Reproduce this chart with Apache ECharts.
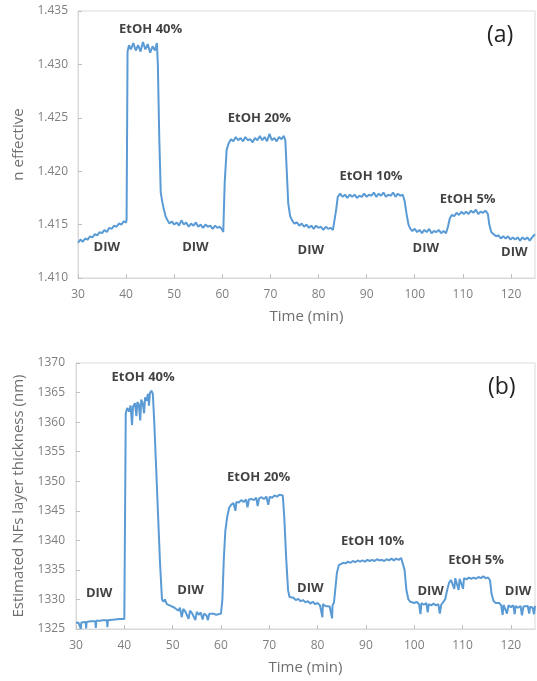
<!DOCTYPE html>
<html>
<head>
<meta charset="utf-8">
<script src="https://cdn.jsdelivr.net/npm/echarts@6/dist/echarts.min.js"></script>
<style>
  html, body { margin: 0; padding: 0; background: #fff; }
  #main { width: 537px; height: 681px; }
</style>
</head>
<body>
<div id="main"></div>
<script>
// (a) n effective vs time
var timeA = [30,30.5,31,31.5,32,32.5,33,33.5,34,34.5,35,35.5,36,36.5,37,37.5,38,38.5,39,39.5,40,40.1,
  40.3,40.6,41,41.5,42,42.5,43,43.5,44,44.5,45,45.5,46,46.4,46.6,46.9,47.2,47.5,47.8,48.2,48.6,49,49.5,
  50,50.5,51,51.5,52,52.5,53,53.5,54,54.5,55,55.5,56,56.5,57,57.5,58,58.5,59,59.5,60,60.2,60.5,60.9,61.3,
  61.8,62.3,62.8,63.3,63.8,64.3,64.8,65.3,65.8,66.3,66.8,67.3,67.8,68.3,68.8,69.3,69.8,70.3,70.8,71.3,71.8,
  72.3,72.8,73.1,73.4,73.7,74.1,74.5,75,75.5,76,76.5,77,77.5,78,78.5,79,79.5,80,80.5,81,81.5,82,82.5,83,
  83.4,83.7,84,84.5,85,85.5,86,86.5,87,87.5,88,88.5,89,89.5,90,90.5,91,91.5,92,92.5,93,93.5,94,94.5,95,
  95.5,96,96.5,97,97.5,97.9,98.3,98.7,99.1,99.5,100,100.5,101,101.5,102,102.5,103,103.5,104,104.5,105,
  105.5,106,106.5,106.9,107.3,107.7,108.2,108.7,109.2,109.7,110.2,110.7,111.2,111.7,112.2,112.7,113.2,
  113.7,114.2,114.7,115.2,115.5,115.9,116.4,116.9,117.4,117.9,118.4,118.9,119.4,119.9,120.4,120.9,121.4,
  121.9,122.4,122.9,123.4,123.9,124.4,124.8,125];
var nEffective = [1.4133,1.4136,1.4134,1.4137,1.4136,1.4139,1.4138,1.4141,1.4140,1.4143,1.4142,1.4145,1.4143,
  1.4147,1.4146,1.4149,1.4148,1.4151,1.4150,1.4153,1.4152,1.4155,
  1.4312,1.4318,1.4314,1.4320,1.4313,1.4318,1.4312,1.4321,1.4314,1.4319,1.4311,1.4317,1.4313,1.4320,
  1.4300,1.4230,1.4180,1.4172,1.4165,1.4158,1.4154,1.4151,1.4153,
  1.4150,1.4152,1.4149,1.4154,1.4150,1.4152,1.4148,1.4151,1.4149,1.4152,1.4148,1.4150,1.4147,1.4150,
  1.4148,1.4149,1.4146,1.4149,1.4147,1.4148,1.4145,1.4143,1.4190,1.4220,1.4226,
  1.4230,1.4228,1.4232,1.4229,1.4231,1.4228,1.4232,1.4229,1.4230,1.4227,1.4231,1.4229,1.4233,1.4229,
  1.4232,1.4228,1.4235,1.4229,1.4231,1.4228,1.4232,1.4230,1.4233,1.4229,1.4200,1.4170,1.4158,1.4154,
  1.4151,1.4152,1.4149,1.4151,1.4148,1.4150,1.4147,1.4149,1.4146,1.4149,1.4147,1.4148,1.4145,1.4148,
  1.4146,1.4147,1.4145,1.4146,1.4165,1.4176,1.4179,1.4176,1.4178,1.4175,1.4178,1.4176,1.4178,1.4175,
  1.4177,1.4176,1.4179,1.4176,1.4178,1.4177,1.4180,1.4176,1.4179,1.4177,1.4180,1.4176,1.4178,1.4177,
  1.4180,1.4176,1.4179,1.4177,1.4178,1.4172,1.4160,1.4150,1.4146,1.4144,1.4146,1.4143,1.4145,1.4142,
  1.4145,1.4143,1.4146,1.4142,1.4144,1.4143,1.4145,1.4142,1.4144,1.4142,1.4148,1.4156,1.4159,1.4158,
  1.4161,1.4159,1.4162,1.4160,1.4162,1.4160,1.4163,1.4161,1.4164,1.4160,1.4162,1.4161,1.4163,1.4160,
  1.4150,1.4143,1.4141,1.4139,1.4140,1.4137,1.4139,1.4137,1.4139,1.4136,1.4138,1.4136,1.4138,1.4135,
  1.4138,1.4136,1.4138,1.4135,1.4138,1.4137,1.4141];

// (b) estimated layer thickness vs time
var timeB = [30,30.5,30.9,31,31.1,31.5,32,32.1,32.2,33,33.5,34,34.1,34.2,35,35.5,36.4,36.5,36.6,37,38,39,40,40.1,
  40.3,40.6,41,41.3,41.6,41.8,42.2,42.5,42.7,43,43.3,43.5,43.8,44.1,44.3,44.6,44.9,45.1,45.3,45.6,45.9,
  46.2,46.6,47,47.4,47.8,48.1,48.4,48.8,49.2,49.6,50,50.4,50.8,51.2,51.5,51.9,52.2,52.6,53,53.3,53.6,54,
  54.3,54.7,55,55.4,55.8,56.2,56.5,57,57.3,57.6,58,58.5,59,59.5,60,60.3,60.6,60.9,61.3,61.7,62.1,62.6,63,
  63.2,63.7,64.2,64.7,65.2,65.5,65.8,66.3,66.8,67.3,67.6,67.9,68.4,68.9,69.4,69.8,70.1,70.6,71.1,71.6,
  72.1,72.5,72.8,73.1,73.5,73.9,74.2,74.6,75,75.5,76,76.5,77,77.5,78,78.5,79,79.5,80,80.5,80.9,81,81.1,
  81.6,82,82.5,82.9,83,83.1,83.4,83.7,84,84.4,84.8,85.3,85.8,86.3,86.8,87.3,87.8,88.3,88.8,89.3,89.8,
  90.3,90.8,91.3,91.8,92.3,92.8,93.3,93.8,94.3,94.8,95.3,95.8,96.3,96.8,97.3,97.7,98,98.4,98.8,99.2,99.6,
  100,100.5,101,101.3,101.5,102,102.5,102.8,103,103.5,104,104.5,105,105.3,105.6,106,106.4,106.8,107.2,
  107.6,108,108.3,108.5,108.9,109.2,109.4,109.8,110.1,110.3,110.8,111.3,111.8,112.3,112.8,113.3,113.8,
  114.3,114.8,115.3,115.7,116,116.4,116.8,117.2,117.6,118,118.3,118.5,118.9,119.2,119.5,120,120.5,120.8,
  121,121.5,122,122.3,122.6,123,123.5,123.8,124,124.5,124.8,125];
var thickness = [1326.0,1326.1,1326.1,1325.0,1326.1,1326.2,1326.2,1325.1,1326.2,1326.3,1326.3,1326.3,1325.2,
  1326.4,1326.4,1326.5,1326.5,1325.3,1326.5,1326.6,1326.6,1326.7,1326.7,1326.8,
  1361.5,1362.4,1361.8,1362.8,1359.5,1362.6,1363.2,1361.0,1363.4,1363.0,1360.3,1363.8,1363.2,1361.5,
  1364.2,1363.6,1364.8,1362.8,1364.9,1365.3,1364.8,
  1360.0,1352.0,1344.0,1336.0,1330.0,1329.6,1330.0,1329.2,1329.5,1328.9,1329.2,1328.6,1328.9,1328.1,
  1328.6,1327.0,1328.4,1328.0,1328.3,1326.7,1328.1,1327.7,1328.0,1326.5,1327.9,1327.4,1327.8,1326.6,
  1327.6,1327.3,1326.5,1327.6,1327.4,1327.6,1327.4,1327.5,1327.6,1330.0,1337.0,1341.5,1344.0,1345.5,
  1346.0,1346.3,1345.0,1346.5,1346.4,1346.8,1346.5,1346.9,1345.6,1346.9,1347.0,1346.8,1347.2,1345.8,
  1347.1,1347.3,1347.0,1347.4,1346.0,1347.4,1347.2,1347.6,1347.4,1347.7,1347.5,1347.6,1344.0,1337.0,
  1331.5,1330.4,1330.2,1330.3,1329.9,1330.1,1329.7,1329.9,1329.5,1329.7,1329.3,1329.6,1329.2,1329.4,
  1329.0,1329.3,1327.0,1329.2,1328.9,1329.2,1328.8,1329.0,1326.8,1329.0,1329.5,1332.0,1334.5,1335.8,
  1336.0,1336.2,1336.1,1336.4,1336.2,1336.5,1336.3,1336.6,1336.4,1336.6,1336.4,1336.7,1336.5,1336.7,
  1336.5,1336.8,1336.6,1336.7,1336.5,1336.8,1336.6,1336.9,1336.6,1336.9,1336.7,1337.0,1336.8,1335.0,
  1331.5,1330.0,1329.6,1329.8,1329.4,1329.6,1329.2,1327.5,1329.4,1329.1,1329.4,1327.8,1329.2,1329.0,
  1329.3,1329.0,1329.2,1327.6,1329.1,1329.3,1330.0,1331.5,1332.8,1333.3,1333.5,1331.8,1333.6,1333.4,
  1331.6,1333.5,1333.3,1331.8,1333.6,1333.4,1333.7,1333.5,1333.7,1333.5,1333.8,1333.6,1333.9,1333.6,
  1333.7,1333.2,1331.0,1329.8,1329.4,1329.2,1329.4,1329.0,1327.4,1329.1,1328.8,1327.6,1329.0,1328.7,
  1329.0,1327.5,1328.9,1328.6,1328.9,1327.3,1328.8,1328.6,1328.9,1327.6,1328.8,1328.6,1327.5,1328.9];

// annotations (text, time, value)
var notesA = ['EtOH 40%', 'DIW', 'DIW', 'EtOH 20%', 'DIW', 'EtOH 10%', 'DIW', 'EtOH 5%', 'DIW'];
var notesAx = [45.1, 36.0, 54.4, 67.7, 78.4, 90.9, 102.3, 111.0, 120.7];
var notesAy = [1.4333, 1.4129, 1.4129, 1.4250, 1.4126, 1.4195, 1.4128, 1.4174, 1.4124];
var notesB = ['EtOH 40%', 'DIW', 'DIW', 'EtOH 20%', 'DIW', 'EtOH 10%', 'DIW', 'EtOH 5%', 'DIW'];
var notesBx = [43.9, 34.8, 53.7, 67.8, 78.5, 91.4, 103.4, 112.8, 121.5];
var notesBy = [1367.5, 1331.1, 1331.6, 1350.7, 1331.9, 1339.9, 1331.4, 1336.7, 1331.3];

function zip(xs, ys) {
    return xs.map(function (x, i) { return [x, ys[i]]; });
}
function notes(texts, xs, ys) {
    return texts.map(function (t, i) { return { name: t, value: [xs[i], ys[i]] }; });
}

var axisGray = '#d9d9d9';
var textGray = '#7f7f7f';
var font = 'Open Sans';

function xAxisFor(idx) {
    return {
        type: 'value', gridIndex: idx, min: 30, max: 125, interval: 10,
        name: 'Time (min)', nameLocation: 'middle', nameGap: 31,
        nameTextStyle: { fontFamily: font, fontSize: 15, color: '#6f6f6f' },
        axisLine: { lineStyle: { color: axisGray } },
        axisTick: { inside: true, length: 4, lineStyle: { color: '#c0c0c0' } },
        axisLabel: { fontFamily: font, fontSize: 12, color: textGray, margin: 11, showMaxLabel: false },
        splitLine: { show: false }
    };
}

function noteSeries(idx, data) {
    return {
        type: 'scatter', xAxisIndex: idx, yAxisIndex: idx, symbolSize: 1,
        itemStyle: { color: 'rgba(0,0,0,0)' },
        label: { show: true, position: 'inside', formatter: '{b}',
            fontFamily: font, fontSize: 13, fontWeight: 'bold', color: '#111' },
        data: data
    };
}

var myChart = echarts.init(document.getElementById('main'));
var option = {
    animation: false,
    backgroundColor: '#fff',
    title: [
        { text: '(a)', left: 482, top: 19, textStyle: { fontFamily: font, fontSize: 23, fontWeight: 'normal', color: '#222' } },
        { text: '(b)', left: 483, top: 371, textStyle: { fontFamily: font, fontSize: 23, fontWeight: 'normal', color: '#222' } }
    ],
    grid: [
        { left: 78, top: 11, width: 457, height: 267, show: true, borderColor: axisGray, borderWidth: 1 },
        { left: 76, top: 363, width: 459, height: 266, show: true, borderColor: axisGray, borderWidth: 1 }
    ],
    xAxis: [xAxisFor(0), xAxisFor(1)],
    yAxis: [
        {
            type: 'value', gridIndex: 0, min: 1.41, max: 1.435, interval: 0.005,
            name: 'n effective', nameLocation: 'middle', nameGap: 47,
            nameTextStyle: { fontFamily: font, fontSize: 15, color: '#6f6f6f' },
            axisLine: { show: true, lineStyle: { color: axisGray } },
            axisTick: { show: true, inside: true, length: 4, lineStyle: { color: '#c0c0c0' } },
            axisLabel: { fontFamily: font, fontSize: 12, color: textGray, margin: 10,
                formatter: function (v) { return v.toFixed(3); } },
            splitLine: { show: false }
        },
        {
            type: 'value', gridIndex: 1, min: 1325, max: 1370, interval: 5,
            name: 'Estimated NFs layer thickness (nm)', nameLocation: 'middle', nameGap: 40,
            nameTextStyle: { fontFamily: font, fontSize: 15, color: '#6f6f6f' },
            axisLine: { show: true, lineStyle: { color: axisGray } },
            axisTick: { show: true, inside: true, length: 4, lineStyle: { color: '#c0c0c0' } },
            axisLabel: { fontFamily: font, fontSize: 12, color: textGray, margin: 11,
                formatter: function (v) { return String(v); } },
            splitLine: { show: false }
        }
    ],
    series: [
        {
            type: 'line', xAxisIndex: 0, yAxisIndex: 0, showSymbol: false,
            lineStyle: { color: '#5b9bd5', width: 2 },
            data: zip(timeA, nEffective)
        },
        {
            type: 'line', xAxisIndex: 1, yAxisIndex: 1, showSymbol: false,
            lineStyle: { color: '#5b9bd5', width: 2 },
            data: zip(timeB, thickness)
        },
        noteSeries(0, notes(notesA, notesAx, notesAy)),
        noteSeries(1, notes(notesB, notesBx, notesBy))
    ]
};
myChart.setOption(option);
</script>
</body>
</html>
